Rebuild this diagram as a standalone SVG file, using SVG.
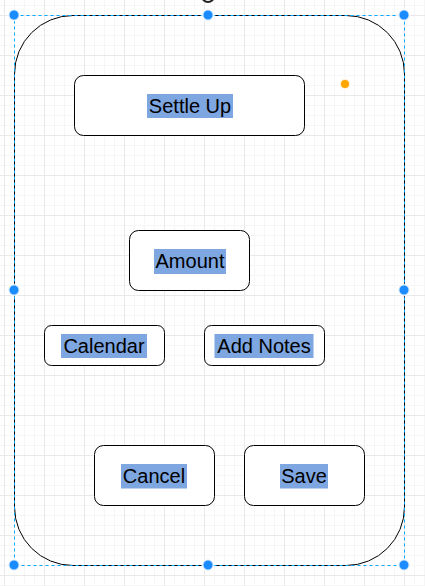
<svg xmlns="http://www.w3.org/2000/svg" width="425" height="586" viewBox="0 0 425 586">
<style>
.box{fill:#fff;stroke:#000;stroke-width:1}
.hl{fill:#7ea6e0}
.lbl{font-family:"Liberation Sans",Arial,Helvetica,sans-serif;font-size:20px;fill:#000;text-anchor:middle}
.sel{fill:none;stroke:#00a8ff;stroke-width:1;stroke-dasharray:3 3}
.hdl{fill:#1a8cff;stroke:#fff;stroke-opacity:0.8;stroke-width:2}
</style>
<defs>
<pattern id="minor" patternUnits="userSpaceOnUse" x="4" y="5" width="10" height="10">
<path d="M0.5 0V10M0 0.5H10" stroke="#f6f6f6" stroke-width="1" fill="none"/>
</pattern>
<pattern id="major" patternUnits="userSpaceOnUse" x="4" y="15" width="40" height="40">
<path d="M0.5 0V40M0 0.5H40" stroke="#e9e9e9" stroke-width="1" fill="none"/>
</pattern>
</defs>
<rect width="425" height="586" fill="#fff"/>
<rect width="425" height="586" fill="url(#minor)"/>
<rect width="425" height="586" fill="url(#major)"/>

<g id="container">
<rect x="14.5" y="15.5" width="390" height="550" rx="58.5" ry="58.5" fill="none" stroke="#000" stroke-width="1"/>
</g>

<g id="settle-up">
<rect class="box" x="74.5" y="75.5" width="230" height="60" rx="9"/>
<rect class="hl" x="147" y="94" width="86" height="24"/>
<text class="lbl" x="190" y="112.5">Settle Up</text>
</g>

<g id="amount">
<rect class="box" x="129.5" y="230.5" width="120" height="60" rx="9"/>
<rect class="hl" x="154" y="249" width="72" height="25"/>
<text class="lbl" x="190" y="267.5">Amount</text>
</g>

<g id="calendar">
<rect class="box" x="44.5" y="325.5" width="120" height="40" rx="7"/>
<rect class="hl" x="61" y="334" width="86" height="24"/>
<text class="lbl" x="104" y="352.5">Calendar</text>
</g>

<g id="add-notes">
<rect class="box" x="204.5" y="325.5" width="120" height="40" rx="7"/>
<rect class="hl" x="214.5" y="334" width="99" height="24"/>
<text class="lbl" x="264" y="352.5">Add Notes</text>
</g>

<g id="cancel">
<rect class="box" x="94.5" y="445.5" width="120" height="60" rx="9"/>
<rect class="hl" x="121" y="464" width="66" height="24.5"/>
<text class="lbl" x="154" y="482.5">Cancel</text>
</g>

<g id="save">
<rect class="box" x="244.5" y="445.5" width="120" height="60" rx="9"/>
<rect class="hl" x="280" y="464" width="48" height="24.5"/>
<text class="lbl" x="304" y="482.5">Save</text>
</g>

<g id="connectors"></g>

<g id="selection">
<rect class="sel" x="14.5" y="15.5" width="390" height="550"/>
<circle cx="208" cy="-4" r="6" fill="#fff" stroke="#222" stroke-width="2"/>
<circle class="hdl" cx="14" cy="15" r="5.5"/>
<circle class="hdl" cx="208" cy="15" r="5.5"/>
<circle class="hdl" cx="404" cy="15" r="5.5"/>
<circle class="hdl" cx="14" cy="290" r="5.5"/>
<circle class="hdl" cx="404" cy="290" r="5.5"/>
<circle class="hdl" cx="14" cy="565" r="5.5"/>
<circle class="hdl" cx="208" cy="565" r="5.5"/>
<circle class="hdl" cx="404" cy="565" r="5.5"/>
<circle cx="345" cy="84" r="5" fill="#ffa500" stroke="#fff" stroke-opacity="0.8" stroke-width="2"/>
</g>
</svg>
